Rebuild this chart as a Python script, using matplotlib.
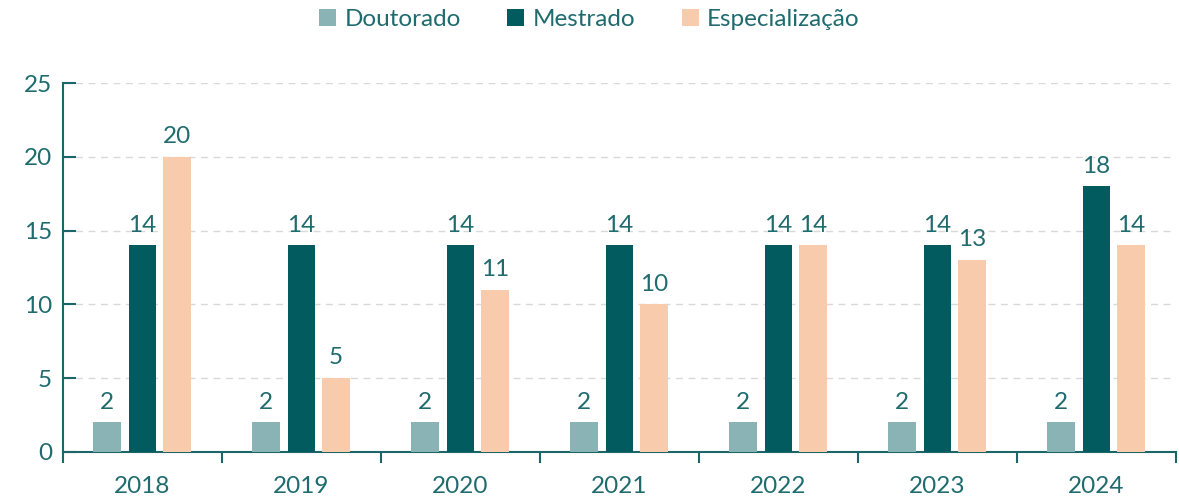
import matplotlib
matplotlib.use("Agg")
import matplotlib.pyplot as plt
import numpy as np

years = ["2018", "2019", "2020", "2021", "2022", "2023", "2024"]
series_names = ["Doutorado", "Mestrado", "Especialização"]
doutorado = [2, 2, 2, 2, 2, 2, 2]
mestrado = [14, 14, 14, 14, 14, 14, 18]
especializacao = [20, 5, 11, 10, 14, 13, 14]
colors = ["#8ab3b5", "#025c5f", "#f7cbac"]
text_color = "#1f6b6e"
axis_color = "#1d6668"

plt.rcParams['font.family'] = ['Lato', 'DejaVu Sans']

fig = plt.figure(figsize=(11.79, 5), dpi=100)
# y: 0 at pixel 452, 25 at pixel 83
ax = fig.add_axes([63/1179, (500-452)/500, (1176-63)/1179, (452-83)/500])

x = np.arange(len(years))
w = 0.176
offs = [-0.224, 0.0, 0.217]
data = [doutorado, mestrado, especializacao]
for i, (vals, name) in enumerate(zip(data, series_names)):
    bars = ax.bar(x + offs[i], vals, width=w, color=colors[i], label=name, zorder=3)
    for b, v in zip(bars, vals):
        ax.annotate(str(v), (b.get_x() + b.get_width()/2, v), xytext=(0, 7),
                    textcoords="offset points", ha="center", va="bottom",
                    fontsize=17.5, color=text_color)

ax.set_xlim(-0.5, len(years) - 0.5)
ax.set_ylim(0, 25)
ax.set_yticks([0, 5, 10, 15, 20, 25])
ax.yaxis.grid(True, linestyle=(0, (5, 4)), color="#d9d9d9", linewidth=1, zorder=0)
ax.set_axisbelow(True)

for s in ["top", "right"]:
    ax.spines[s].set_visible(False)
for s in ["left", "bottom"]:
    ax.spines[s].set_color(axis_color)
    ax.spines[s].set_linewidth(1.5)

ax.set_xticks(x)
ax.set_xticklabels(years, fontsize=17.5, color=text_color)
ax.tick_params(axis="x", length=0, pad=17)
ax.set_xticks(np.arange(-0.5, len(years)), minor=True)
ax.tick_params(axis="x", which="minor", length=8, width=1.5, color=axis_color, direction="out")
ax.tick_params(axis="y", length=9, width=1.5, color=axis_color, direction="in",
               labelsize=17.5, labelcolor=text_color, pad=8)

leg = fig.legend(loc="upper center", bbox_to_anchor=(0.5, 1.025), ncol=3, frameon=False,
                 fontsize=17.5, handlelength=0.7, handleheight=0.7, handletextpad=0.35,
                 columnspacing=1.9)
for t in leg.get_texts():
    t.set_color(text_color)

fig.savefig("out.png", dpi=100)
